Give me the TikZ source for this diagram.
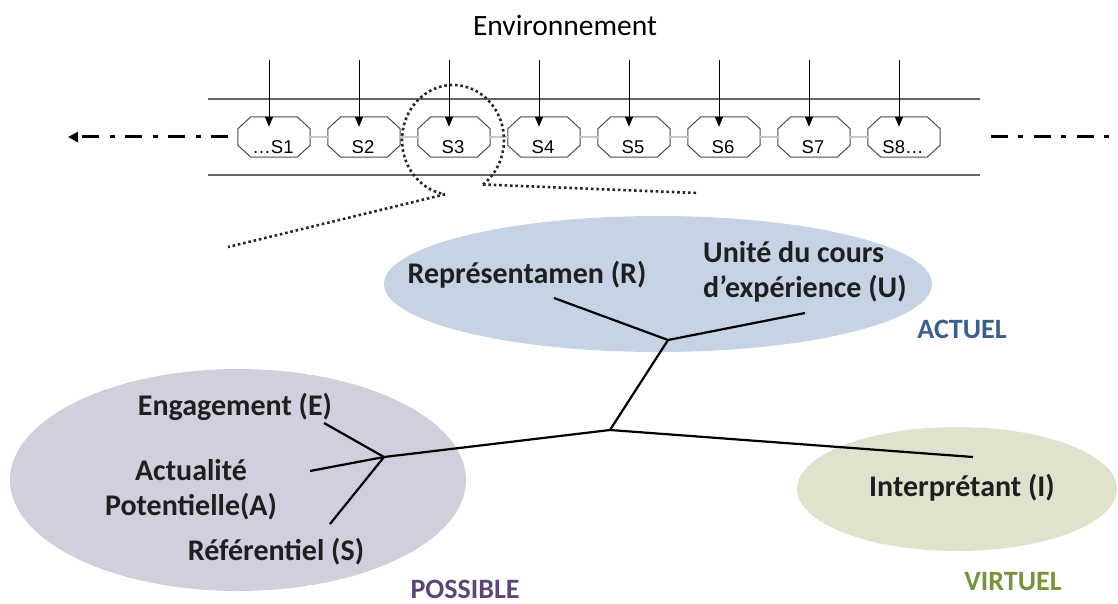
\documentclass[tikz,border=0pt]{standalone}
\usepackage{fontspec}
\setmainfont{Carlito}
\newfontfamily\arialf{Liberation Sans}
\usetikzlibrary{arrows.meta,calc,shapes.geometric}
\definecolor{blueE}{HTML}{C5D3E4}
\definecolor{purpleE}{HTML}{D3CEDE}
\definecolor{greenE}{HTML}{DEE3CE}
\definecolor{actC}{HTML}{3D5E8C}
\definecolor{posC}{HTML}{5E4577}
\definecolor{virC}{HTML}{77933C}
\begin{document}
\begin{tikzpicture}[x=1pt,y=-1pt,
  lbl/.style={font=\fontsize{30}{35}\selectfont\bfseries, text=black!88, align=center, inner sep=0pt, anchor=base},
  cat/.style={font=\fontsize{28}{32}\selectfont\bfseries, inner sep=0pt, anchor=base},
  seqbox/.style={draw=none, minimum width=72pt, minimum height=40pt, inner sep=0pt},
  seqtxt/.style={font=\arialf\fontsize{18.5}{20}\selectfont, inner sep=0pt, anchor=base},
  boxline/.style={draw=black!70, line width=1pt, fill=white},
  link/.style={draw=black!70, line width=0.7pt, double=black!22, double distance=1.2pt},
  envarrow/.style={line width=1pt, -{Triangle[length=10pt,width=8pt]}},
  rail/.style={draw=black!60, line width=1.6pt},
  dashdot/.style={line width=3pt, dash pattern=on 17pt off 10pt on 5pt off 11pt},
  dotl/.style={line width=2.6pt, dash pattern=on 2.6pt off 2.8pt, black!85},
  tree/.style={line width=2.2pt, black},
  zone/.style={ellipse, draw=none, inner sep=0pt}
]
\useasboundingbox (0,0) rectangle (1118,604);

% zones
\node[zone, fill=blueE, minimum width=548pt, minimum height=136pt] (zactuel) at (658,284) {};
\node[zone, fill=purpleE, minimum width=456pt, minimum height=222pt] (zpossible) at (238,480) {};
\node[zone, fill=greenE, minimum width=320pt, minimum height=124pt] (zvirtuel) at (957,489) {};

% title
\node[font=\fontsize{29.5}{34}\selectfont, inner sep=0pt, anchor=base] (env) at (565,36) {Environnement};

% rails
\draw[rail] (208,99) -- (980,99);
\draw[rail] (208,175) -- (980,175);

% sequence
\foreach \i/\x/\t in {1/274/…S1,2/364/S2,3/454/S3,4/544/S4,5/634/S5,6/724/S6,7/814/S7,8/904/S8…}{
  \node[seqbox] (s\i) at (\x,137) {};
  \draw[boxline] ([xshift=13pt]s\i.north west) -- ([xshift=-13pt]s\i.north east) -- ([yshift=-12pt]s\i.north east)
     -- ([yshift=12pt]s\i.south east) -- ([xshift=-13pt]s\i.south east) -- ([xshift=13pt]s\i.south west)
     -- ([yshift=12pt]s\i.south west) -- ([yshift=-12pt]s\i.north west) -- cycle;
  \node[seqtxt] (t\i) at ($(s\i.south)+(-1,-4)$) {\t};
  \coordinate (a\i) at (\x-5,60);
  \draw[envarrow] (a\i) -- ($(a\i |- s\i.north)+(0,10)$);
}
\foreach \i [evaluate=\i as \j using int(\i+1)] in {1,...,7}{
  \draw[link] (s\i.east) -- (s\j.west);
}

% dash-dot continuation
\coordinate (lstart) at (228,137);
\coordinate (lend) at (68,137);
\draw[dashdot, -{Triangle[length=10pt,width=10pt]}] (lstart) -- (lend);
\coordinate (rstart) at (991,137);
\coordinate (rend) at (1122,137);
\draw[dashdot] (rstart) -- (rend);

% zoom circle
\coordinate (zc) at (453,140);
\coordinate (zl) at ($(zc)+({51*cos(261)},{-55*sin(261)})$);
\coordinate (zr) at ($(zc)+({51*cos(-54)},{-55*sin(-54)})$);
\draw[dotl] (zr) arc[start angle=-54, end angle=261, x radius=51pt, y radius=55pt];
\coordinate (zfl) at (228,247);
\coordinate (zfr) at (697,193);
\draw[dotl] (zl) -- (zfl);
\draw[dotl] (zr) -- (zfr);

% labels
\node[lbl] (rep) at (527,283) {Représentamen (R)};
\node[lbl, anchor=north west, align=left] (uni) at (703,241) {Unité du cours\\d’expérience (U)};
\node[cat, text=actC] (act) at (962,338) {ACTUEL};
\node[lbl] (eng) at (235,415) {Engagement (E)};
\node[lbl, anchor=north] (apo) at (191,459) {Actualité\\Potentielle(A)};
\node[lbl] (ref) at (276,560) {Référentiel (S)};
\node[cat, text=posC] (pos) at (465,598) {POSSIBLE};
\node[lbl] (int) at (962,496) {Interprétant (I)};
\node[cat, text=virC] (vir) at (1013,590) {VIRTUEL};

% tree
\coordinate (jc) at (610,430);
\coordinate (ju) at (668,340);
\coordinate (jl) at (384,457);
\coordinate (er) at (554,298);
\coordinate (eu) at (805,313);
\coordinate (ee) at (324,423);
\coordinate (ea) at (310,471);
\coordinate (es) at (330,524);
\coordinate (ei) at (973,457);
\draw[tree] (jc) -- (ju);
\draw[tree] (ju) -- (er);
\draw[tree] (ju) -- (eu);
\draw[tree] (jc) -- (jl);
\draw[tree] (jl) -- (ee);
\draw[tree] (jl) -- (ea);
\draw[tree] (jl) -- (es);
\draw[tree] (jc) -- (ei);
\end{tikzpicture}
\end{document}
